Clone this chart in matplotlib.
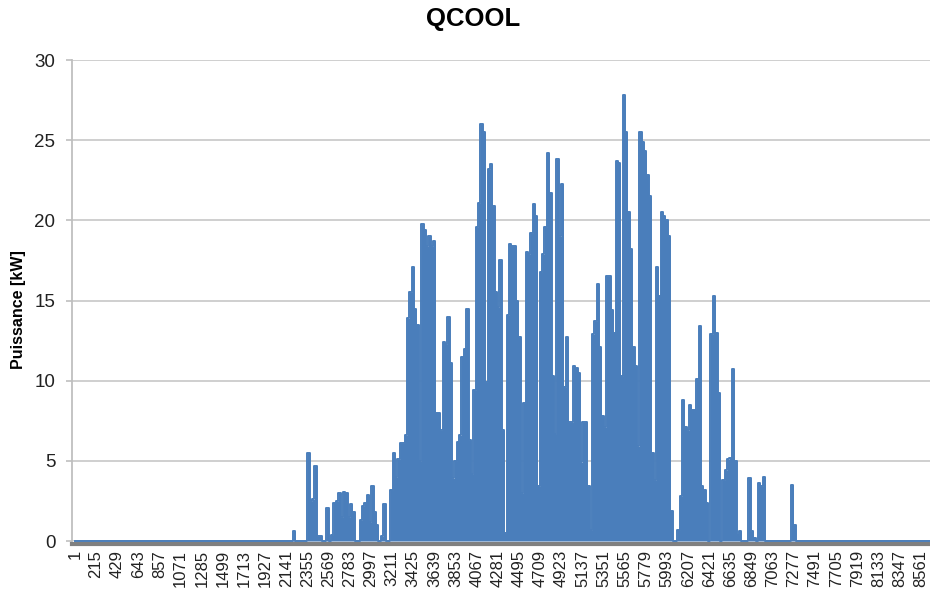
import numpy as np
import matplotlib.pyplot as plt

plt.rcParams['font.family'] = ['Liberation Sans', 'DejaVu Sans']

# QCOOL, daily peak values in kW (day 0 = hour 1)
FIRST_DAY = 92
N_DAYS = 365
peak_kw = [
    0.6, 0, 0, 0, 0, 0, 5.5, 2.5, 2.6, 4.65,          # 92-101
    0.3, 0.3, 0, 0, 2.05, 0, 0.4, 2.4, 2.5, 3.0,      # 102-111
    1.5, 3.05, 3.0, 1.5, 2.3, 1.8, 0, 0, 1.3, 2.2,    # 112-121
    2.4, 2.9, 1.2, 3.45, 1.8, 1.0, 0, 0.3, 2.3, 0,    # 122-131
    0, 3.2, 5.5, 4.0, 5.1, 6.1, 6.1, 6.6, 13.9, 15.5, # 132-141
    17.1, 14.5, 13.5, 5.0, 19.75, 19.4, 18.4, 19.0, 18.4, 18.7,  # 142-151
    8.0, 8.0, 6.9, 12.4, 12.3, 14.0, 11.1, 3.9, 5.0, 6.2,        # 152-161
    6.6, 11.5, 12.0, 14.5, 6.3, 4.2, 9.4, 19.6, 21.1, 26.0,      # 162-171
    25.5, 9.9, 23.2, 23.5, 20.9, 15.5, 14.6, 17.5, 6.9, 0.5,     # 172-181
    14.1, 18.5, 18.4, 18.4, 15.0, 12.7, 3.0, 8.6, 18.0, 17.9,    # 182-191
    19.2, 21.0, 20.3, 3.4, 16.8, 17.9, 19.6, 24.2, 21.7, 10.3,   # 192-201
    6.7, 23.8, 19.0, 22.25, 9.6, 12.7, 7.4, 7.4, 10.9, 10.8,     # 202-211
    10.5, 4.9, 7.4, 7.4, 3.4, 0.7, 12.9, 13.7, 16.0, 12.1,       # 212-221
    7.8, 7.1, 16.5, 16.5, 14.4, 13.0, 23.7, 23.6, 10.3, 27.8,    # 222-231
    25.5, 20.5, 18.2, 12.1, 10.9, 5.9, 25.5, 24.9, 24.3, 22.8,   # 232-241
    21.5, 5.5, 3.8, 17.1, 15.3, 20.5, 20.3, 20.0, 19.0, 1.9,     # 242-251
    0, 0, 0.7, 2.8, 8.8, 7.1, 6.9, 8.5, 8.2, 8.2,                # 252-261
    10.1, 13.4, 3.4, 3.2, 2.4, 0, 12.9, 15.3, 13.0, 9.25,        # 262-271
    0, 3.8, 4.4, 5.1, 5.2, 10.7, 5.0, 0.4, 0.6, 0,               # 272-281
    0, 0, 3.9, 0.6, 0.2, 0, 3.6, 3.4, 4.0, 0,                    # 282-291
    0, 0, 0, 0, 0, 0, 0, 0, 0, 0,                                # 292-301
    3.5, 1.0,                                                    # 302-303
]
x_ticks = list(range(1, 8562, 214))

qcool = np.zeros(N_DAYS)
qcool[FIRST_DAY:FIRST_DAY + len(peak_kw)] = peak_kw
hours = np.arange(N_DAYS + 1) * 24 + 1
values = np.append(qcool, qcool[-1])

blue = '#4A7EBB'
fig = plt.figure(figsize=(9.30, 5.96), dpi=100)
ax = fig.add_axes([72 / 930, 1 - 541 / 596, 858 / 930, 481 / 596])

# spines first: set_position resets the tick settings
for side in ['top', 'right']:
    ax.spines[side].set_visible(False)
ax.spines['left'].set_color('#bfbfbf')
ax.spines['left'].set_linewidth(1.3)
ax.spines['bottom'].set_color('#808080')
ax.spines['bottom'].set_linewidth(3)
ax.spines['bottom'].set_position(('outward', 2.5))

ax.fill_between(hours, values, step='post', color=blue, lw=0, zorder=3)
ax.step(hours, values, where='post', color=blue, lw=1.4, zorder=3,
        clip_on=False)

ax.set_xlim(-29, 8655)
ax.set_ylim(0, 30)
ax.set_yticks(range(0, 31, 5))
ax.set_xticks(x_ticks)
ax.set_xticklabels([str(t) for t in x_ticks])

ax.grid(axis='y', color='#cccccc', lw=1.3, zorder=0)
ax.set_axisbelow(True)

ax.tick_params(axis='x', length=0, pad=4, labelsize=12, labelrotation=90,
               labelcolor='#222222')
ax.tick_params(axis='y', length=4, width=1.2, color='#bfbfbf', pad=8,
               labelsize=13.5, labelcolor='#222222')

fig.text(473 / 930, 1 - 19 / 596, 'QCOOL', ha='center', va='center',
         fontsize=18.5, fontweight='bold')
fig.text(19 / 930, 1 - 310 / 596, 'Puissance [kW]', ha='center', va='center',
         rotation=90, fontsize=11.5, fontweight='bold')

fig.savefig('out.png', dpi=100)
